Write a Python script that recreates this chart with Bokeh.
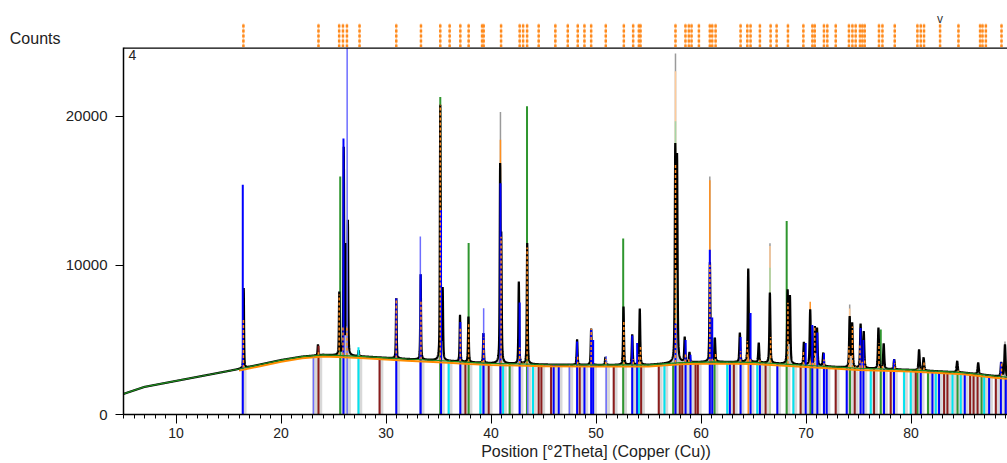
import numpy as np
from bokeh.plotting import figure
from bokeh.models import Range1d, FixedTicker, Span, LinearAxis
from bokeh.layouts import column
from bokeh.embed import file_html
from bokeh.resources import INLINE
from bokeh.core.properties import value

# ---------------- data ----------------
# fitted background of the scan (2Theta, counts)
bg_theta = [5, 7, 10, 13, 16, 18, 20, 22, 24, 26, 28, 30, 32, 35, 38, 40, 45, 50,
            55, 58, 61, 65, 68, 70, 73, 75, 80, 85, 88, 89.3]
bg_counts = [1380, 1850, 2250, 2650, 3050, 3350, 3650, 3880, 4000, 3950, 3880, 3800,
             3720, 3620, 3500, 3430, 3350, 3320, 3330, 3480, 3530, 3500, 3380, 3300,
             3180, 3100, 2990, 2810, 2580, 2500]

# observed peak maxima (2Theta, counts)
peak_theta = [16.45, 23.52, 25.55, 25.98, 26.20, 26.37, 27.40, 30.98, 33.30, 35.17,
              35.40, 37.05, 37.85, 39.28, 40.87, 40.98, 42.65, 43.45, 48.20, 49.54,
              50.90, 52.62, 53.45, 54.17, 57.55, 57.72, 58.45, 58.90, 60.85, 61.32,
              63.70, 64.50, 65.50, 66.56, 68.25, 68.47, 69.80, 70.40, 70.84, 71.05,
              71.65, 74.16, 74.40, 75.20, 75.50, 76.90, 77.40, 78.40, 80.77, 81.20,
              84.40, 86.40, 88.60, 88.95]
peak_counts = [8470, 4700, 8250, 17950, 11490, 13050, 4300, 7800, 9400, 20770,
               8540, 6680, 6560, 5450, 16860, 12270, 8910, 11490, 5030, 5750,
               3850, 7230, 5370, 7100, 18200, 17530, 5210, 4180, 10220, 5150,
               5480, 9780, 4810, 8170, 8390, 8000, 4860, 7050, 5930, 5820,
               4140, 6600, 6170, 6100, 5590, 5820, 4770, 3690, 4360, 3820,
               3580, 3470, 3510, 4700]

# reference pattern lines (2Theta, counts; 0 = line ends at the background)
blue_theta = [16.36, 25.95, 30.98, 33.30, 35.24, 37.08, 39.28, 40.90, 42.73, 45.97,
              46.45, 48.20, 48.90, 49.54, 49.73, 53.45, 53.92, 57.57, 58.53, 59.00,
              60.84, 61.07, 62.75, 63.77, 64.72, 65.61, 67.27, 69.97, 70.60, 71.08,
              71.71, 71.97, 73.88, 75.20, 75.47, 77.43, 78.38, 80.93, 82.04, 82.67,
              85.12, 87.44, 88.56, 89.03]
blue_counts = [15400, 18500, 7800, 9400, 13700, 6200, 5450, 15500, 7500, 0,
               0, 4900, 0, 5700, 5000, 5300, 4800, 6100, 5000, 4000,
               11040, 6500, 0, 5200, 6800, 0, 0, 4800, 6000, 5500,
               4100, 0, 0, 5800, 5000, 0, 3700, 0, 0, 0,
               0, 0, 3500, 0]

slate_theta = [23.09, 26.30, 33.27, 39.30, 43.50, 47.47, 50.97]
slate_counts = [0, 24600, 11930, 7130, 0, 0, 3900]

green_theta = [25.64, 35.17, 37.87, 41.78, 43.43, 52.59, 57.35, 61.29, 68.16, 70.44,
               74.19, 77.12, 80.61, 81.62, 84.43, 86.72]
green_counts = [15960, 21290, 11490, 0, 20660, 11800, 0, 5150, 12970, 0,
                0, 5700, 0, 0, 0, 0]

lightgreen_theta = [57.57, 66.57]
lightgreen_counts = [19650, 9830]

grey_theta = [35.20, 40.90, 57.57, 60.84, 66.57, 74.16, 88.95]
grey_counts = [15500, 20280, 24200, 15960, 11480, 7380, 4900]

orange_theta = [40.90, 60.84, 64.50, 70.40]
orange_counts = [18420, 15700, 9740, 7560]

lightorange_theta = [57.57, 66.57, 74.16]
lightorange_counts = [23000, 11300, 7100]

darkred_theta = [23.57, 29.39, 37.56, 39.78, 44.54, 44.80, 45.72, 48.45, 51.69, 54.30,
                 55.98, 57.98, 58.21, 59.48, 59.70, 63.13, 66.15, 69.49, 72.83, 74.64,
                 76.48, 78.07, 80.45, 83.15, 83.47, 85.63, 85.96, 86.34, 88.08]
darkred_counts = [4600] + [0] * 28

cyan_theta = [27.38, 35.97, 38.99, 41.15, 44.00, 54.08, 56.52, 62.50, 65.36, 68.80,
              76.17, 79.34, 79.98, 82.36, 83.95, 84.74, 86.97]
cyan_counts = [4500] + [0] * 16

# peak list markers shown above the plot
ref_theta = [16.42, 23.57, 25.54, 25.90, 26.28, 27.48, 30.98, 33.33, 35.17, 36.06,
             37.08, 37.87, 39.15, 39.30, 40.96, 42.73, 43.06, 43.44, 44.54, 46.13,
             47.31, 48.26, 48.90, 49.54, 50.93, 52.65, 53.54, 54.08, 54.24, 57.57,
             58.52, 58.84, 59.10, 59.80, 60.84, 61.07, 61.39, 63.77, 64.41, 64.72,
             65.61, 66.63, 67.20, 68.28, 69.75, 70.61, 70.83, 71.71, 72.03, 72.83,
             74.09, 74.42, 74.73, 75.14, 75.37, 75.59, 76.95, 77.28, 78.45, 80.61,
             80.93, 81.24, 82.77, 84.52, 86.58, 86.81, 87.13, 88.62]
marked_theta = [82.77]

x_ticks = [10, 20, 30, 40, 50, 60, 70, 80]
y_ticks = [0, 10000, 20000]
x_title = "Position [°2Theta] (Copper (Cu))"
y_title = "Counts"

# ---------------- layout ----------------
W, H = 1007, 463
LEFT = 123
STRIP_H = 47
BOTTOM = 49
PX_PER_DEG = 10.5
X0 = 5.0
X1 = X0 + (W - LEFT) / PX_PER_DEG
Y1 = 24600
FONT = "Liberation Sans"


def bg_at(t):
    return np.interp(t, bg_theta, bg_counts)


def width_at(t):
    return 0.06 + 0.0008 * np.asarray(t)


def shape(x, c, w):
    d = (x - c) / w
    return 0.5 / (1.0 + 4.0 * d * d) + 0.5 * np.exp(-4.0 * np.log(2) * d * d)


# observed scan: background plus peak profiles scaled to hit the read maxima
pt = np.array(peak_theta)
pc = np.array(peak_counts, dtype=float)
pw = width_at(pt)
A = shape(pt[:, None], pt[None, :], pw[None, :])
amps = np.clip(np.linalg.solve(A, pc - bg_at(pt)), 0, None)

grid = np.arange(X0, X1 + 0.005, 0.01)
bg_grid = bg_at(grid)
obs = bg_grid + (amps[None, :] * shape(grid[:, None], pt[None, :], pw[None, :])).sum(axis=1)


def obs_at(t):
    return np.interp(t, grid, obs)


def tops(theta, counts):
    return np.maximum(np.array(counts, dtype=float), bg_at(np.array(theta)))


x_range = Range1d(X0, X1)

# ---------------- marker strip above the plot ----------------
strip = figure(width=W, height=STRIP_H, x_range=x_range, y_range=Range1d(0, STRIP_H),
               output_backend="svg", toolbar_location=None,
               min_border_left=LEFT, min_border_right=0, min_border_top=0,
               min_border_bottom=0, x_axis_location=None, y_axis_location="left")
strip.outline_line_color = None
strip.grid.visible = False

# the strip's axis only carries the intensity caption
sy = strip.yaxis[0]
sy.ticker = FixedTicker(ticks=[9], minor_ticks=[])
sy.major_label_overrides = {9: y_title}
sy.axis_line_color = None
sy.major_tick_line_color = None
sy.minor_tick_line_color = None
sy.major_label_standoff = LEFT - 66
sy.major_label_text_font = FONT
sy.major_label_text_font_size = "16px"
sy.major_label_text_color = "#222222"

strip.segment(x0=ref_theta, y0=0, x1=ref_theta, y1=24, line_color="#ffd2a8", line_width=1.5)
strip.segment(x0=ref_theta, y0=0, x1=ref_theta, y1=24, line_color="#ff8a1c",
              line_width=2.5, line_dash="3 2")
strip.text(x=marked_theta, y=[29], text=["v"], text_font=value(FONT),
           text_font_size="12px", text_color="#333333",
           text_align="center", text_baseline="middle")

# ---------------- main plot ----------------
p = figure(width=W, height=H - STRIP_H, x_range=x_range, y_range=Range1d(0, Y1),
           output_backend="svg", toolbar_location=None,
           min_border_left=LEFT, min_border_right=0, min_border_top=0,
           min_border_bottom=BOTTOM)
p.outline_line_color = None
p.grid.visible = False
p.background_fill_color = "white"

all_theta = (blue_theta + slate_theta + green_theta + darkred_theta + cyan_theta)
shade_x = np.array(all_theta) + 0.12
p.segment(x0=shade_x, y0=0, x1=shade_x, y1=bg_at(shade_x), line_color="#d8d8d8",
          line_width=5)

# peak area above background
p.varea(x=grid, y1=bg_grid, y2=obs, fill_color="#c4c4c4")

p.segment(x0=grey_theta, y0=0, x1=grey_theta, y1=tops(grey_theta, grey_counts),
          line_color="#9a9a9a", line_width=1.5)
p.segment(x0=lightorange_theta, y0=0, x1=lightorange_theta,
          y1=tops(lightorange_theta, lightorange_counts), line_color="#ffcb9a", line_width=1.5)
p.segment(x0=orange_theta, y0=0, x1=orange_theta, y1=tops(orange_theta, orange_counts),
          line_color="#ff9020", line_width=1.5)
p.segment(x0=lightgreen_theta, y0=0, x1=lightgreen_theta,
          y1=tops(lightgreen_theta, lightgreen_counts), line_color="#a6d6a6", line_width=1.5)
p.segment(x0=green_theta, y0=0, x1=green_theta, y1=tops(green_theta, green_counts),
          line_color="#2f962f", line_width=2)

# observed pattern
p.line(grid, obs, line_color="black", line_width=2.2)

p.segment(x0=slate_theta, y0=0, x1=slate_theta, y1=tops(slate_theta, slate_counts),
          line_color="#6d6dff", line_width=1.5)
p.segment(x0=blue_theta, y0=0, x1=blue_theta, y1=tops(blue_theta, blue_counts),
          line_color="#0000ff", line_width=2)
p.segment(x0=darkred_theta, y0=0, x1=darkred_theta, y1=tops(darkred_theta, darkred_counts),
          line_color="#8b1c1c", line_width=2)
p.segment(x0=cyan_theta, y0=0, x1=cyan_theta, y1=tops(cyan_theta, cyan_counts),
          line_color="#00e4f0", line_width=2)

# calculated peak positions inside the peaks
rt = np.array(ref_theta)
p.segment(x0=rt, y0=bg_at(rt), x1=rt, y1=obs_at(rt), line_color="#ff8a1c",
          line_width=1.5, line_dash="3 2")

# backgrounds
ob = [t for t in bg_theta if t >= 16]
p.line(ob, [c - 110 for t, c in zip(bg_theta, bg_counts) if t >= 16],
       line_color="#ff8c00", line_width=2)
p.line(bg_theta, bg_counts, line_color="#1e8c1e", line_width=1.2)

p.add_layout(Span(location=Y1, dimension="width", line_color="black", line_width=2.5))

p.text(x=[X0 + 5 / PX_PER_DEG], y=[Y1 - 150], text=["4"], text_font=value(FONT),
       text_font_size="14px", text_color="#222222", text_align="left",
       text_baseline="top")

# axes
p.xaxis.ticker = FixedTicker(ticks=x_ticks, minor_ticks=list(range(5, 90)))
p.yaxis.ticker = FixedTicker(ticks=y_ticks, minor_ticks=[])
for ax in (p.xaxis[0], p.yaxis[0]):
    ax.axis_line_color = "black"
    ax.axis_line_width = 1.5
    ax.major_tick_line_color = "black"
    ax.minor_tick_line_color = "black"
    ax.major_tick_in = 0
    ax.minor_tick_in = 0
    ax.major_label_text_font = FONT
    ax.major_label_text_color = "#222222"
p.xaxis.major_tick_out = 9
p.xaxis.minor_tick_out = 4
p.xaxis.major_label_standoff = 4
p.xaxis.major_label_text_font_size = "14px"
p.yaxis.major_tick_out = 8
p.yaxis.minor_tick_out = 0
p.yaxis.major_label_standoff = 8
p.yaxis.major_label_text_font_size = "15px"

# axis caption as a second, line-less axis under the first
cap = LinearAxis(ticker=FixedTicker(ticks=[50], minor_ticks=[]),
                 major_label_overrides={50: x_title})
cap.axis_line_color = None
cap.major_tick_line_color = None
cap.minor_tick_line_color = None
cap.major_tick_out = 0
cap.major_label_standoff = 2
cap.major_label_text_font = FONT
cap.major_label_text_font_size = "16px"
cap.major_label_text_color = "#222222"
p.add_layout(cap, "below")

layout = column(strip, p, spacing=0)
open("out.html", "w").write(file_html(layout, INLINE))
